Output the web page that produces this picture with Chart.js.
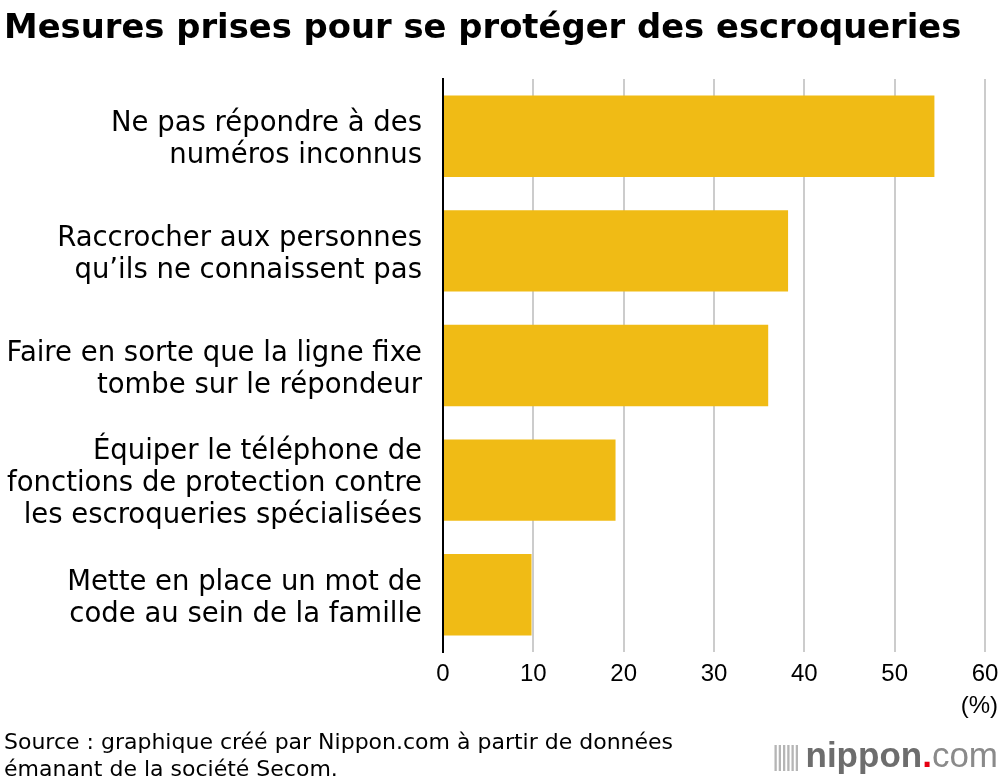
<!DOCTYPE html>
<html lang="fr">
<head>
    <meta charset="UTF-8">
    <title>Mesures prises pour se protéger des escroqueries</title>
    <script src="https://cdn.jsdelivr.net/npm/chart.js"></script>
    <style>
        body {
            margin: 0;
            background: #ffffff;
            font-family: "DejaVu Sans", sans-serif;
            color: #000;
        }
        .page {
            position: relative;
            width: 1000px;
            height: 782px;
            overflow: hidden;
        }
        h1 {
            position: absolute;
            left: 4px;
            top: 8px;
            margin: 0;
            font-size: 33.8px;
            line-height: 38px;
            font-weight: bold;
            white-space: nowrap;
        }
        canvas {
            position: absolute;
            left: 0;
            top: 0;
        }
        .unit {
            position: absolute;
            right: 2px;
            top: 691px;
            font-family: "Liberation Sans", Arial, sans-serif;
            font-size: 24px;
        }
        .source {
            position: absolute;
            left: 4px;
            top: 728px;
            font-size: 22px;
            line-height: 27px;
        }
        .logo {
            position: absolute;
            right: 2px;
            top: 735px;
            font-family: "Liberation Sans", Arial, sans-serif;
            font-size: 35px;
            color: #6d6d6d;
            white-space: nowrap;
        }
        .logo b { font-weight: bold; }
        .logo .dot { color: #e60012; font-weight: bold; }
        .logo .com { color: #8a8a8a; font-weight: normal; }
        .logo .bars {
            display: inline-block;
            font-size: 28px;
            letter-spacing: -3px;
            color: #b5b5b5;
            margin-right: 8px;
            vertical-align: 2px;
        }
    </style>
</head>
<body>
<div class="page">
    <canvas id="chart" width="1000" height="782"></canvas>
    <h1>Mesures prises pour se protéger des escroqueries</h1>
    <div class="unit">(%)</div>
    <div class="source">Source : graphique créé par Nippon.com à partir de données<br>émanant de la société Secom.</div>
    <div class="logo"><span class="bars">||||||</span><b>nippon</b><span class="dot">.</span><span class="com">com</span></div>
</div>

<script>
    const categories = [
        ['Ne pas répondre à des', 'numéros inconnus'],
        ['Raccrocher aux personnes', 'qu’ils ne connaissent pas'],
        ['Faire en sorte que la ligne fixe', 'tombe sur le répondeur'],
        ['Équiper le téléphone de', 'fonctions de protection contre', 'les escroqueries spécialisées'],
        ['Mette en place un mot de', 'code au sein de la famille']
    ];
    const values = [54.4, 38.2, 36.0, 19.1, 9.8];
    const tickValues = [0, 10, 20, 30, 40, 50, 60];

    const ctx = document.getElementById('chart').getContext('2d');
    new Chart(ctx, {
        type: 'bar',
        data: {
            labels: categories,
            datasets: [{
                data: values,
                backgroundColor: '#F0BB15',
                borderWidth: 0,
                categoryPercentage: 1.0,
                barPercentage: 0.71
            }]
        },
        options: {
            indexAxis: 'y',
            responsive: false,
            animation: false,
            layout: {
                padding: { top: 79, right: 15, bottom: 80, left: 0 }
            },
            plugins: {
                legend: { display: false },
                tooltip: { enabled: false }
            },
            scales: {
                x: {
                    min: 0,
                    max: 60,
                    afterBuildTicks: scale => {
                        scale.ticks = tickValues.map(v => ({ value: v }));
                    },
                    afterFit: scale => {
                        scale.height = 50;
                        // keep the plot edge fixed, the "60" label fits in the margin
                        scale.paddingLeft = 0;
                        scale.paddingRight = 0;
                    },
                    grid: {
                        color: '#cccccc',
                        lineWidth: 2,
                        drawTicks: false
                    },
                    border: { display: false },
                    ticks: {
                        color: '#000',
                        padding: 8,
                        font: { family: 'Liberation Sans', size: 24 }
                    }
                },
                y: {
                    afterFit: scale => { scale.width = 443; },
                    grid: { display: false, drawTicks: false },
                    border: { display: true, color: '#000', width: 2 },
                    ticks: {
                        color: '#000',
                        padding: 21,
                        labelOffset: 4,
                        font: { family: 'DejaVu Sans', size: 27.5, lineHeight: 1.164 }
                    }
                }
            }
        }
    });
</script>
</body>
</html>
